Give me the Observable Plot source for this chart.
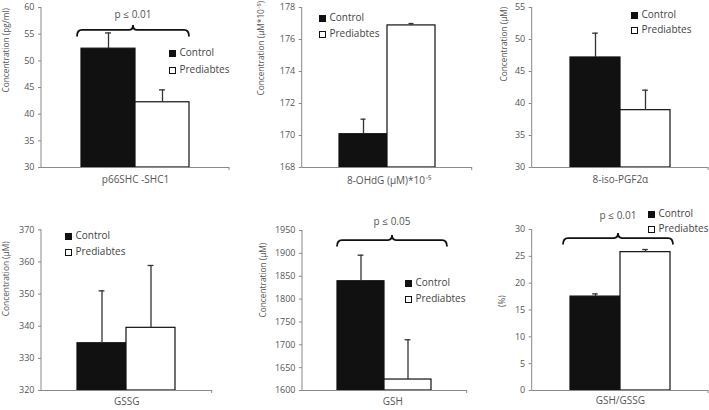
<!DOCTYPE html>
<html>
<head>
<meta charset="utf-8">
<script src="https://cdn.jsdelivr.net/npm/d3@7"></script>
<script src="https://cdn.jsdelivr.net/npm/@observablehq/plot@0.6"></script>
<style>
  body { margin: 0; background: #fff; }
  #root { position: relative; width: 709px; height: 410px; font-family: "Open Sans", sans-serif; overflow: hidden; background: #fff; }
  .panel { position: absolute; }
  .leg { position: absolute; font-size: 10px; color: #444; line-height: 1; white-space: nowrap; }
  .leg .sw { position: absolute; width: 7px; height: 7px; box-sizing: border-box; border: 1px solid #111; }
  .leg .lb { position: absolute; }
</style>
</head>
<body>
<div id="root"></div>
<script>
// ---- data ----
const groups = ["Control", "Prediabtes"];

const p66Means = [52.28, 42.23];
const p66Upper = [55.23, 44.56];
const p66Ticks = [30, 35, 40, 45, 50, 55, 60];

const ohdgMeans = [170.08, 176.88];
const ohdgUpper = [171.02, 177.0];
const ohdgTicks = [168, 170, 172, 174, 176, 178];

const isoMeans = [47.19, 38.96];
const isoUpper = [50.99, 42.08];
const isoTicks = [30, 35, 40, 45, 50, 55];

const gssgMeans = [334.7, 339.5];
const gssgUpper = [351.0, 358.9];
const gssgTicks = [320, 330, 340, 350, 360, 370];

const gshMeans = [1839, 1624];
const gshUpper = [1896, 1711];
const gshTicks = [1600, 1650, 1700, 1750, 1800, 1850, 1900, 1950];

const ratioMeans = [17.5, 25.78];
const ratioUpper = [18.0, 26.27];
const ratioTicks = [0, 5, 10, 15, 20, 25, 30];

const xLabels = ["p66SHC -SHC1", "8-OHdG (μM)*10⁻⁵", "8-iso-PGF2α", "GSSG", "GSH", "GSH/GSSG"];
const yTitles = ["Concentration (pg/ml)", "Concentration (μM*10⁻⁵)", "Concentration (μM)", "Concentration (μM)", "Concentration (μM)", "(%)"];
const pLabels = ["p ≤ 0.01", null, null, null, "p ≤ 0.05", "p ≤ 0.01"];
const bracketLevels = [55.7, null, null, null, 1928, 28.3];

// ---- layout (pixels) ----
const layout = [
  {left: 0,   top: 0,   width: 240, height: 205, ml: 41,   mr: 11,   mt: 7,    mb: 38, bars: [81, 189],     tdx: -35, tdy: 5,  xdx: 0, xdy: 15,   leg: [169, 50, 17], brace: [-4, 0],  pOff: 15},
  {left: 240, top: 0,   width: 240, height: 205, ml: 61.7, mr: 8.3,  mt: 7,    mb: 38, bars: [97.7, 195.7], tdx: -41, tdy: 8,  xdx: 2, xdy: 16.5, leg: [319, 15, 16]},
  {left: 480, top: 0,   width: 229, height: 205, ml: 51.7, mr: 1,    mt: 7,    mb: 38, bars: [89.3, 190],   tdx: -28, tdy: -6, xdx: 0, xdy: 15,   leg: [631, 12, 15]},
  {left: 0,   top: 205, width: 240, height: 205, ml: 41,   mr: 28.3, mt: 24.3, mb: 20, bars: [76.7, 175],   tdx: -35, tdy: 6,  xdx: 0, xdy: 14.3, leg: [65, 233, 15.5]},
  {left: 240, top: 205, width: 240, height: 205, ml: 62,   mr: 13.3, mt: 25,   mb: 20, bars: [96.7, 191],   tdx: -39, tdy: 7,  xdx: 8, xdy: 14,   leg: [405, 280, 15.7], brace: [0, 16], pOff: 18},
  {left: 480, top: 205, width: 229, height: 205, ml: 51.7, mr: 1,    mt: 24,   mb: 20, bars: [89.3, 190],   tdx: -30, tdy: -3, xdx: 0, xdy: 13,   leg: [648, 211, 14.5], brace: [-7, 3], pOff: 22}
];

const root = document.getElementById("root");

function panel(i, means, upper, ticks) {
  const L = layout[i];
  const data = groups.map((g, k) => ({group: g, mean: means[k], upper: upper[k]}));
  const ymin = ticks[0], ymax = ticks[ticks.length - 1];
  const bw = (L.bars[1] - L.bars[0]) / 2;
  const capInset = (bw - 6) / 2;
  const chart = Plot.plot({
    width: L.width, height: L.height,
    marginLeft: L.ml, marginRight: L.mr, marginTop: L.mt, marginBottom: L.mb,
    style: {fontFamily: '"Open Sans", sans-serif', fontSize: "9px", color: "#555", background: "transparent", overflow: "visible"},
    x: {type: "band", domain: groups, range: L.bars, padding: 0, axis: null},
    y: {domain: [ymin, ymax]},
    color: {domain: groups, range: ["#111111", "#ffffff"]},
    marks: [
      Plot.barY(data, {x: "group", y1: ymin, y2: "mean", fill: "group", stroke: "#111", strokeWidth: 1.2}),
      Plot.ruleX(data, {x: "group", y1: "mean", y2: "upper", stroke: "#333", strokeWidth: 1.3}),
      Plot.tickY(data, {x: "group", y: "upper", stroke: "#333", strokeWidth: 1.3, insetLeft: capInset, insetRight: capInset}),
      Plot.ruleY([ymin], {stroke: "#8a8a8a"}),
      Plot.axisY({ticks: ticks, tickSize: 3, tickPadding: 4, stroke: "#8a8a8a", label: null, tickFormat: d3.format("d")}),
      Plot.text([yTitles[i]], {frameAnchor: "left", rotate: -90, dx: L.tdx, dy: L.tdy, fontSize: 8.3, fill: "#555"}),
      Plot.text([xLabels[i]], {frameAnchor: "bottom", dx: L.xdx, dy: L.xdy, fontSize: 10, fill: "#555"})
    ]
  });
  const wrap = document.createElement("div");
  wrap.className = "panel";
  wrap.style.left = L.left + "px";
  wrap.style.top = L.top + "px";
  wrap.appendChild(chart);
  root.appendChild(wrap);

  const svg = d3.select(chart.tagName.toLowerCase() === "svg" ? chart : chart.querySelector("svg"));
  const ys = chart.scale("y"), xs = chart.scale("x");
  const yb = L.height - L.mb;
  // y axis line
  svg.append("line").attr("x1", L.ml).attr("x2", L.ml).attr("y1", L.mt).attr("y2", yb)
    .attr("stroke", "#8a8a8a");
  // end tick of x axis
  svg.append("line").attr("x1", L.width - L.mr).attr("x2", L.width - L.mr).attr("y1", yb).attr("y2", yb + 3)
    .attr("stroke", "#8a8a8a");

  // significance brace
  if (pLabels[i]) {
    const x0 = xs.apply(groups[0]) + L.brace[0];
    const x1 = xs.apply(groups[1]) + xs.bandwidth + L.brace[1];
    const xm = (x0 + x1) / 2;
    const yl = ys.apply(bracketLevels[i]);
    const d = `M${x0},${yl + 6.5} Q${x0},${yl} ${x0 + 5},${yl} L${xm - 4},${yl} Q${xm},${yl} ${xm},${yl - 5} Q${xm},${yl} ${xm + 4},${yl} L${x1 - 5},${yl} Q${x1},${yl} ${x1},${yl + 6.5}`;
    svg.append("path").attr("d", d).attr("fill", "none").attr("stroke", "#111").attr("stroke-width", 1.8);
    svg.append("text").attr("x", xm).attr("y", yl - L.pOff).attr("text-anchor", "middle")
      .attr("dominant-baseline", "middle").attr("fill", "#555").attr("font-size", 10).text(pLabels[i]);
  }

  // legend
  const [lx, ly, step] = L.leg;
  groups.forEach((g, k) => {
    const row = document.createElement("div");
    row.className = "leg";
    row.style.left = lx + "px";
    row.style.top = (ly + k * step) + "px";
    const sw = document.createElement("div");
    sw.className = "sw";
    sw.style.left = "0px"; sw.style.top = "0px";
    sw.style.background = k === 0 ? "#111" : "#fff";
    const lb = document.createElement("div");
    lb.className = "lb";
    lb.style.left = "10.5px"; lb.style.top = "-3px";
    lb.textContent = g;
    row.appendChild(sw); row.appendChild(lb);
    root.appendChild(row);
  });
}

panel(0, p66Means, p66Upper, p66Ticks);
panel(1, ohdgMeans, ohdgUpper, ohdgTicks);
panel(2, isoMeans, isoUpper, isoTicks);
panel(3, gssgMeans, gssgUpper, gssgTicks);
panel(4, gshMeans, gshUpper, gshTicks);
panel(5, ratioMeans, ratioUpper, ratioTicks);
</script>
</body>
</html>
